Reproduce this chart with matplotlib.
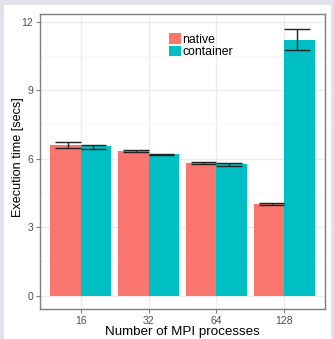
import matplotlib.pyplot as plt
import numpy as np
from matplotlib.patches import Rectangle

plt.rcParams['font.family'] = ['Liberation Sans', 'DejaVu Sans']

# MPI run times, mean and error range per configuration
procs = ['16', '32', '64', '128']
native = [6.59, 6.33, 5.80, 4.00]
native_lo = [6.46, 6.28, 5.76, 3.96]
native_hi = [6.75, 6.37, 5.85, 4.04]
container = [6.54, 6.20, 5.76, 11.21]
container_lo = [6.44, 6.18, 5.70, 10.77]
container_hi = [6.62, 6.22, 5.80, 11.69]

col_native = '#F8766D'
col_container = '#00BFC4'

fig = plt.figure(figsize=(3.34, 3.39), dpi=100, facecolor='#e2e2ec')
# white card behind the plot
fig.patches.append(Rectangle((4 / 334, 0), 327 / 334, 334 / 339,
                             transform=fig.transFigure, facecolor='white',
                             edgecolor='none', zorder=-10))

ax = fig.add_axes([40 / 334, 30 / 339, 285 / 334, 295 / 339])
ax.set_facecolor('white')

x = np.arange(1, len(procs) + 1)
bw = 0.45
ax.bar(x - bw / 2, native, width=bw, color=col_native, label='native', zorder=2)
ax.bar(x + bw / 2, container, width=bw, color=col_container, label='container', zorder=2)

# error bars are dodged a bit narrower than the bars
ed = 0.1875
for xs, lo, hi in [(x - ed, native_lo, native_hi), (x + ed, container_lo, container_hi)]:
    ax.vlines(xs, lo, hi, color='#222222', lw=1, zorder=3)
    ax.hlines(lo, xs - ed, xs + ed, color='#222222', lw=1, zorder=3)
    ax.hlines(hi, xs - ed, xs + ed, color='#222222', lw=1, zorder=3)

ax.set_xlim(0.4, 4.6)
ax.set_ylim(-0.5875, 12.34)
ax.set_xticks(x)
ax.set_xticklabels(procs)
ax.set_yticks([0, 3, 6, 9, 12])
ax.set_yticks([1.5, 4.5, 7.5, 10.5], minor=True)
ax.grid(which='major', color='#ebebeb', lw=1, zorder=0)
ax.grid(which='minor', axis='y', color='#f6f6f6', lw=0.8, zorder=0)
ax.set_axisbelow(True)

for s in ax.spines.values():
    s.set_color('#7f7f7f')
    s.set_linewidth(1)
ax.tick_params(which='major', length=3, width=0.8, color='#7f7f7f',
               labelsize=7.5, labelcolor='#4d4d4d', pad=2)
ax.tick_params(which='minor', length=0)

ax.set_xlabel('Number of MPI processes', fontsize=9.6, labelpad=0)
ax.set_ylabel('Execution time [secs]', fontsize=9.1)
ax.yaxis.set_label_coords(-0.057, 0.515)

ax.legend(loc='upper left', bbox_to_anchor=(0.453, 0.936), frameon=False,
          fontsize=8.8, handlelength=1.0, handleheight=1.0, labelspacing=0,
          handletextpad=0.1, borderpad=0, borderaxespad=0)

fig.savefig('out.png', dpi=100, facecolor=fig.get_facecolor())
